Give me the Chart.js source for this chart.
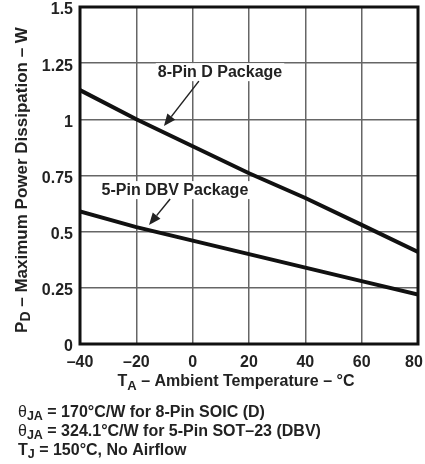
<!DOCTYPE html>
<html>
<head>
<meta charset="utf-8">
<script src="https://cdn.jsdelivr.net/npm/chart.js@4.4.1/dist/chart.umd.min.js"></script>
<style>
html, body { margin: 0; padding: 0; background: #fff; }
#wrap { width: 425px; height: 464px; }
</style>
</head>
<body>
<div id="wrap"><canvas id="chart"></canvas></div>
<script>
// power derating
const temps = [-40, -20, 0, 20, 40, 60, 80];
const pin8 = [1.13, 1.00, 0.88, 0.76, 0.65, 0.53, 0.41];
const pin5 = [0.59, 0.52, 0.46, 0.40, 0.34, 0.28, 0.22];
const xTicks = [-40, -20, 0, 20, 40, 60, 80];
const yTicks = [0, 0.25, 0.5, 0.75, 1, 1.25, 1.5];
const seriesNames = ['8-Pin D Package', '5-Pin DBV Package'];

// callouts in data units: label centre, arrow tail, arrow tip
const callouts = [
  { text: seriesNames[0], at: [9.7, 1.21], from: [2.2, 1.17], to: [-10.2, 0.97] },
  { text: seriesNames[1], at: [-6.3, 0.685], from: [-8, 0.645], to: [-15.5, 0.53] }
];

const FONT = '"Liberation Sans", Arial, sans-serif';

function pts(ys) {
  return temps.map((t, i) => ({ x: t, y: ys[i] }));
}

function fmt(v) {
  return v < 0 ? '\u2013' + (-v) : String(v);
}

// text made of [str, isSub, notBold] pieces, left aligned at x
function richWidth(ctx, parts, size, subSize) {
  let w = 0;
  parts.forEach(p => {
    ctx.font = (p[2] ? '' : 'bold ') + (p[1] ? subSize : size) + 'px ' + FONT;
    w += ctx.measureText(p[0]).width;
  });
  return w;
}
function drawRich(ctx, parts, x, y, size, subSize) {
  parts.forEach(p => {
    ctx.font = (p[2] ? '' : 'bold ') + (p[1] ? subSize : size) + 'px ' + FONT;
    ctx.fillText(p[0], x, y + (p[1] ? 4 : 0));
    x += ctx.measureText(p[0]).width;
  });
}

const extras = {
  id: 'extras',
  // callouts sit over the grid but under the curves
  beforeDatasetsDraw(chart) {
    const ctx = chart.ctx;
    const xs = chart.scales.x, ys = chart.scales.y;
    ctx.save();
    ctx.textBaseline = 'middle';
    ctx.textAlign = 'center';
    callouts.forEach(c => {
      ctx.font = 'bold 16px ' + FONT;
      const cx = xs.getPixelForValue(c.at[0]), cy = ys.getPixelForValue(c.at[1]);
      const w = ctx.measureText(c.text).width;
      ctx.fillStyle = '#fff';
      ctx.fillRect(cx - w / 2 - 2, cy - 9, w + 4, 18);
      ctx.fillStyle = '#222';
      ctx.fillText(c.text, cx, cy);
      const x1 = xs.getPixelForValue(c.from[0]), y1 = ys.getPixelForValue(c.from[1]);
      const x2 = xs.getPixelForValue(c.to[0]), y2 = ys.getPixelForValue(c.to[1]);
      const ang = Math.atan2(y2 - y1, x2 - x1);
      const hl = 12, hw = 5;
      ctx.strokeStyle = '#222';
      ctx.lineWidth = 1.5;
      ctx.beginPath();
      ctx.moveTo(x1, y1);
      ctx.lineTo(x2 - hl * Math.cos(ang), y2 - hl * Math.sin(ang));
      ctx.stroke();
      ctx.beginPath();
      ctx.moveTo(x2, y2);
      ctx.lineTo(x2 - hl * Math.cos(ang) + hw * Math.sin(ang), y2 - hl * Math.sin(ang) - hw * Math.cos(ang));
      ctx.lineTo(x2 - hl * Math.cos(ang) - hw * Math.sin(ang), y2 - hl * Math.sin(ang) + hw * Math.cos(ang));
      ctx.closePath();
      ctx.fill();
    });
    ctx.restore();
  },
  afterDraw(chart) {
    const ctx = chart.ctx;
    const a = chart.chartArea;
    ctx.save();

    // frame
    ctx.strokeStyle = '#111';
    ctx.lineWidth = 3;
    ctx.strokeRect(a.left, a.top, a.right - a.left, a.bottom - a.top);

    ctx.fillStyle = '#222';
    ctx.textBaseline = 'middle';
    ctx.textAlign = 'left';

    // x axis title
    const xt = [['T'], ['A', true], [' \u2013 Ambient Temperature \u2013 \u00b0C']];
    const xw = richWidth(ctx, xt, 16, 13);
    drawRich(ctx, xt, 236 - xw / 2, 382, 16, 13);

    // y axis title, rotated
    const yt = [['P'], ['D', true], [' \u2013 Maximum Power Dissipation \u2013 W']];
    const yw = richWidth(ctx, yt, 17, 14);
    ctx.save();
    ctx.translate(22, 180);
    ctx.rotate(-Math.PI / 2);
    drawRich(ctx, yt, -yw / 2, 0, 17, 14);
    ctx.restore();

    // notes under the chart
    const notes = [
      [['\u03b8', false, true], ['JA', true], [' = 170\u00b0C/W for 8-Pin SOIC (D)']],
      [['\u03b8', false, true], ['JA', true], [' = 324.1\u00b0C/W for 5-Pin SOT\u201323 (DBV)']],
      [['T'], ['J', true], [' = 150\u00b0C, No Airflow']]
    ];
    notes.forEach((n, i) => drawRich(ctx, n, 18, 413 + i * 19, 16, 12.5));

    ctx.restore();
  }
};

new Chart(document.getElementById('chart'), {
  type: 'line',
  data: {
    datasets: [
      { label: seriesNames[0], data: pts(pin8), borderColor: '#111', borderWidth: 4, pointRadius: 0, fill: false },
      { label: seriesNames[1], data: pts(pin5), borderColor: '#111', borderWidth: 4, pointRadius: 0, fill: false }
    ]
  },
  options: {
    responsive: true,
    maintainAspectRatio: false,
    animation: false,
    layout: { padding: { top: 7, right: 7, left: 0, bottom: 0 } },
    plugins: { legend: { display: false }, tooltip: { enabled: false } },
    scales: {
      x: {
        type: 'linear',
        min: -40, max: 80,
        afterBuildTicks: s => { s.ticks = xTicks.map(v => ({ value: v })); },
        afterFit: s => { s.height = 120; s.paddingLeft = 0; s.paddingRight = 0; },
        grid: { color: '#666', lineWidth: 1.5, drawTicks: false },
        border: { display: false },
        ticks: {
          padding: 9, color: '#222', maxRotation: 0,
          font: { family: FONT, size: 16, weight: 'bold' },
          // pad the last label so it stays inside the page
          callback: v => v === xTicks[xTicks.length - 1] ? fmt(v) + '\u2002' : fmt(v)
        }
      },
      y: {
        min: 0, max: 1.5,
        afterBuildTicks: s => { s.ticks = yTicks.map(v => ({ value: v })); },
        afterFit: s => { s.width = 80; s.paddingTop = 0; s.paddingBottom = 0; },
        grid: { color: '#666', lineWidth: 1.5, drawTicks: false },
        border: { display: false },
        ticks: { padding: 7, labelOffset: 3, color: '#222', font: { family: FONT, size: 16, weight: 'bold' }, callback: fmt }
      }
    }
  },
  plugins: [extras]
});
</script>
</body>
</html>
